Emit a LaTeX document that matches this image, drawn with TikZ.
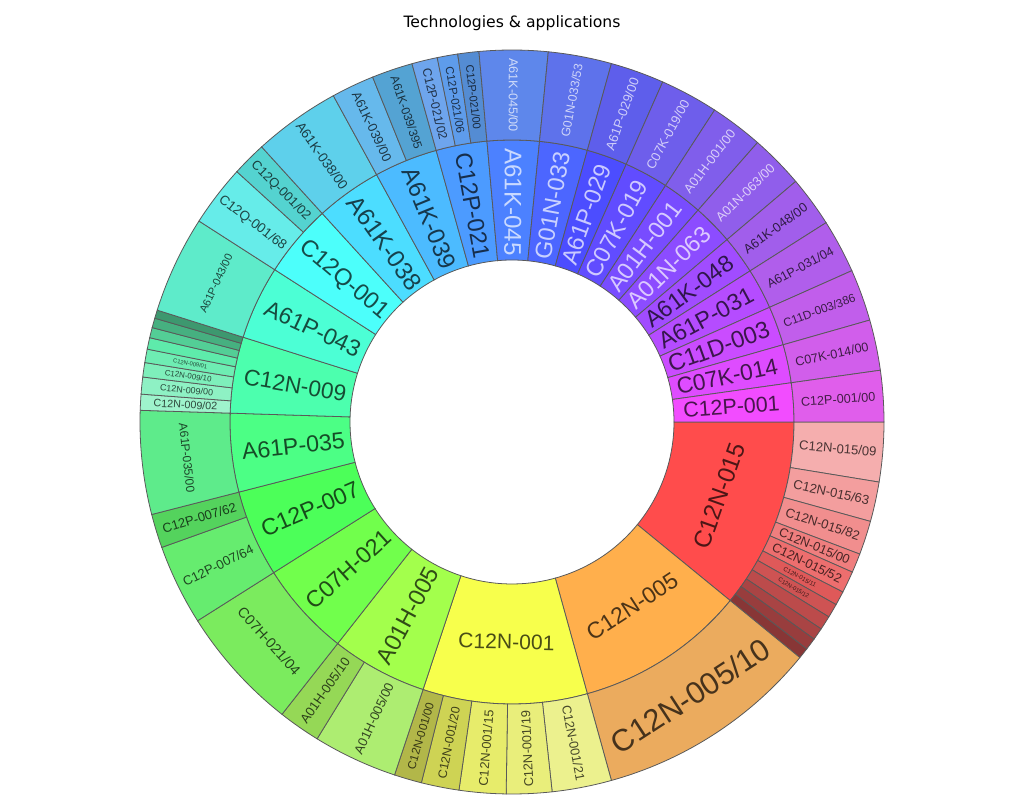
\PassOptionsToPackage{rgb}{xcolor}
\documentclass[tikz,border=0pt]{standalone}
\usepackage{fontspec}
\setmainfont{Liberation Sans}
\newfontfamily\titlefont{DejaVu Sans}
\begin{document}
\begin{tikzpicture}[x=0.02cm,y=0.02cm,
    wedge/.style={draw=black!65, line width=0.45pt},
    lbl/.style={inner sep=0pt, text opacity=0.7}]
  \fill[white] (-512,-378) rectangle (512,422);
  \useasboundingbox (-512,-378) rectangle (512,422);
  \node[font=\titlefont\fontsize{8.9}{10}\selectfont] (title) at (0,399) {Technologies \& applications};
  % inner ring
  \foreach \a/\b/\lab/\tc/\md/\fs [count=\i] in {
      0/-39.3/C12N-015/0/1/13.8, -39.3/-74.5/C12N-005/0/1/13, -74.5/-108.4/C12N-001/0/1/12,
      -108.4/-128.2/A01H-005/0/0/13.5, -128.2/-147.7/C07H-021/0/0/13.2, -147.7/-165.6/C12P-007/0/0/13.2,
      -165.6/-181.8/A61P-035/0/0/13.2, -181.8/-197.5/C12N-009/0/0/12.9, -197.5/-212.7/A61P-043/0/0/13.2,
      -212.7/-227.7/C12Q-001/0/0/13.4, -227.7/-241.3/A61K-038/0/0/14, -241.3/-254.4/A61K-039/0/0/13.7,
      -254.4/-264.9/C12P-021/0/0/13.4, -264.9/-275.6/A61K-045/1/0/13.7, -275.6/-285.5/G01N-033/1/0/13.4,
      -285.5/-293.9/A61P-029/1/0/13.4, -293.9/-303/C07K-019/1/0/13.4, -303/-311.3/A01H-001/1/0/13.4,
      -311.3/-319.7/A01N-063/1/0/13.4, -319.7/-327.6/A61K-048/0/0/13.3, -327.6/-336/A61P-031/0/0/13.3,
      -336/-344.1/C11D-003/0/0/13.5, -344.1/-352/C07K-014/0/0/13, -352/-360/C12P-001/0/0/12.2}
  {
    \pgfmathsetmacro\h{abs(0.84*\a)}
    \pgfmathsetmacro\m{(\a+\b)/2}
    \pgfmathsetmacro\rot{\md==1 ? \m+90+180*(\m < -180) : \m+180*(\m < -85)*(\m > -275)}
    \definecolor{hc}{Hsb}{\h,1,1}
    \ifnum\tc=1 \colorlet{tx}{white}\else\colorlet{tx}{black}\fi
    \path[wedge, fill=hc!70!white] (\a:162) arc[start angle=\a, end angle=\b, radius=162]
      -- (\b:282) arc[start angle=\b, end angle=\a, radius=282] -- cycle;
    \node[lbl, text=tx, rotate=\rot, font=\fontsize{\fs}{\fs}\selectfont] (in\i) at (\m:220) {\lab};
  }
  % outer ring
  \foreach \a/\b/\lab/\p/\tn/\fs/\tc/\md [count=\i] in {
      0/-9.3/{C12N-015/09}/0/50/7.4/0/0, -9.3/-15.5/{C12N-015/63}/0/40/7.4/0/0,
      -15.5/-20.8/{C12N-015/82}/0/30/7.4/0/0, -20.8/-23.8/{C12N-015/00}/0/20/7.2/0/0,
      -23.8/-27.2/{C12N-015/52}/0/10/7.2/0/0, -27.2/-29.4/{C12N-015/11}/0/-5/3.5/0/0,
      -29.4/-31.6/{C12N-015/12}/0/-12/3.3/0/0, -31.6/-33.8/{}/0/-20/3/0/0,
      -33.8/-35.7/{}/0/-28/3/0/0, -35.7/-37.6/{}/0/-35/3/0/0, -37.6/-39.3/{}/0/-42/3/0/0,
      -39.3/-74.5/{C12N-005/10}/-39.3/0/17.5/0/1,
      -74.5/-83.8/{C12N-001/21}/-74.5/30/7.3/0/0, -83.8/-90.9/{C12N-001/19}/-74.5/18/7.3/0/0,
      -90.9/-98.2/{C12N-001/15}/-74.5/8/7.3/0/0, -98.2/-104.1/{C12N-001/20}/-74.5/-10/7/0/0,
      -104.1/-108.4/{C12N-001/00}/-74.5/-22/6.6/0/0,
      -108.4/-121.6/{A01H-005/00}/-108.4/12/7.4/0/0, -121.6/-128.2/{A01H-005/10}/-108.4/-8/7.4/0/0,
      -128.2/-147.7/{C07H-021/04}/-128.2/0/8.2/0/1,
      -147.7/-160.3/{C12P-007/64}/-147.7/5/7.4/0/0, -160.3/-165.6/{C12P-007/62}/-147.7/-10/7.4/0/0,
      -165.6/-181.8/{A61P-035/00}/-165.6/0/6.8/0/1,
      -181.8/-184.3/{C12N-009/02}/-181.8/40/6.1/0/0, -184.3/-186.95/{C12N-009/00}/-181.8/30/5.1/0/0,
      -186.95/-189.2/{C12N-009/10}/-181.8/20/4.5/0/0, -189.2/-191.3/{C12N-009/01}/-181.8/10/3.3/0/0,
      -191.3/-193.1/{}/-181.8/0/3/0/0, -193.1/-194.7/{}/-181.8/-12/3/0/0,
      -194.7/-196.2/{}/-181.8/-25/3/0/0, -196.2/-197.5/{}/-181.8/-35/3/0/0,
      -197.5/-212.7/{A61P-043/00}/-197.5/0/6.2/0/1,
      -212.7/-222.3/{C12Q-001/68}/-212.7/5/7.7/0/0, -222.3/-227.7/{C12Q-001/02}/-212.7/-10/7.4/0/0,
      -227.7/-241.3/{A61K-038/00}/-227.7/0/7.7/0/0,
      -241.3/-248/{A61K-039/00}/-241.3/5/7.4/0/0, -248/-254.4/{A61K-039/395}/-241.3/-10/6.8/0/0,
      -254.4/-258.4/{C12P-021/02}/-254.4/10/7/0/0, -258.4/-261.6/{C12P-021/06}/-254.4/0/6.5/0/0,
      -261.6/-264.9/{C12P-021/00}/-254.4/-10/6.3/0/0,
      -264.9/-275.6/{A61K-045/00}/-264.9/0/7.2/1/0, -275.6/-285.5/{G01N-033/53}/-275.6/0/7/1/0,
      -285.5/-293.9/{A61P-029/00}/-285.5/0/7.4/1/0, -293.9/-303/{C07K-019/00}/-293.9/0/7.4/1/0,
      -303/-311.3/{A01H-001/00}/-303/0/7.4/1/0, -311.3/-319.7/{A01N-063/00}/-311.3/0/7.4/1/0,
      -319.7/-327.6/{A61K-048/00}/-319.7/0/7.4/0/0, -327.6/-336/{A61P-031/04}/-327.6/0/7.2/0/0,
      -336/-344.1/{C11D-003/386}/-336/0/6.7/0/0, -344.1/-352/{C07K-014/00}/-344.1/0/7.2/0/0,
      -352/-360/{C12P-001/00}/-352/0/7.2/0/0}
  {
    \pgfmathsetmacro\h{abs(0.84*\p)}
    \pgfmathsetmacro\m{(\a+\b)/2}
    \pgfmathsetmacro\rot{\md==1 ? \m+90+180*(\m < -180) : \m+180*(\m < -85)*(\m > -275)}
    \definecolor{base}{Hsb}{\h,0.6,0.92}
    \ifnum\tn<0 \colorlet{oc}{base!\the\numexpr100+\tn\relax!black}\else\colorlet{oc}{base!\the\numexpr100-\tn\relax!white}\fi
    \ifnum\tc=1 \colorlet{tx}{white}\else\colorlet{tx}{black}\fi
    \path[wedge, fill=oc] (\a:282) arc[start angle=\a, end angle=\b, radius=282]
      -- (\b:372) arc[start angle=\b, end angle=\a, radius=372] -- cycle;
    \node[lbl, text=tx, rotate=\rot, font=\fontsize{\fs}{\fs}\selectfont] (out\i) at (\m:327) {\lab};
  }
\end{tikzpicture}
\end{document}
